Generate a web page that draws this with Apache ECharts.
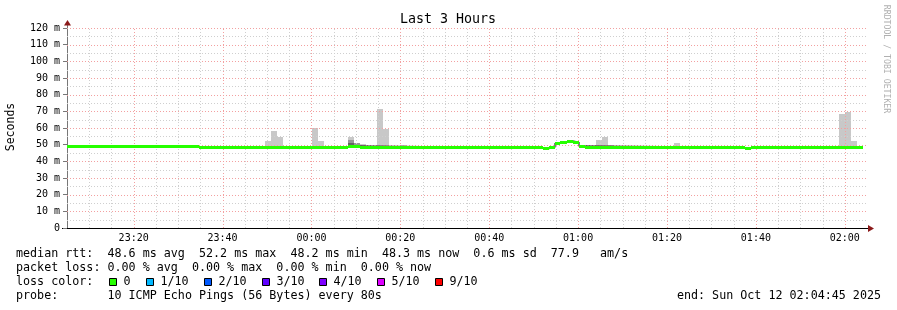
<!DOCTYPE html>
<html><head><meta charset="utf-8">
<script src="https://cdn.jsdelivr.net/npm/echarts@6/dist/echarts.min.js"></script>
<style>html,body{margin:0;padding:0;background:#fff}#c{width:897px;height:310px}</style>
</head><body><div id="c"></div>
<script>
// x values are minutes after 23:05:00; the graph spans 3 hours
const xTickMinutes = [15, 35, 55, 75, 95, 115, 135, 155, 175];
const xTickLabels = ['23:20', '23:40', '00:00', '00:20', '00:40', '01:00', '01:20', '01:40', '02:00'];
const yTickValues = [0, 10, 20, 30, 40, 50, 60, 70, 80, 90, 100, 110, 120];
const yTickLabels = ['0', '10 m', '20 m', '30 m', '40 m', '50 m', '60 m', '70 m', '80 m', '90 m', '100 m', '110 m', '120 m'];

// median rtt (ms), step segments: start minute and value; last segment ends at medianEndMinute
const medianStart = [0, 29.7, 63.2, 65.9, 107.1, 108.5, 109.8, 111.0, 112.5, 113.9, 115.2, 116.6, 150.0, 152.6, 153.9, 155.0, 172.6];
const medianValue = [48.7, 48.3, 49.2, 48.3, 47.6, 48.3, 51.0, 51.6, 52.2, 51.6, 49.2, 48.6, 48.3, 47.6, 48.3, 48.6, 48.3];
const medianEndMinute = 179.1;

// smoke (ping spread, ms) per 80 s step: start minute, low, high
const smokeStart = [44.55, 45.9, 47.2, 55.06, 56.5, 63.2, 64.6, 65.9, 69.69, 71.1, 72.4, 74.93, 119.0, 120.4, 121.7, 136.6, 173.7, 175.1, 176.4];
const smokeLow   = [48.3, 48.3, 48.3, 48.3, 48.3, 49.2, 49.2, 48.3, 48.3, 48.3, 48.3, 48.3, 48.6, 48.6, 48.6, 48.6, 48.3, 48.3, 48.3];
const smokeHigh  = [52.0, 58.5, 54.5, 60.0, 52.0, 54.6, 51.2, 50.2, 71.4, 59.6, 49.3, 49.8, 53.0, 54.6, 49.8, 51.2, 68.4, 69.4, 52.0];
// denser smoke (closer pings)
const smokeMidStart = [63.2, 64.6];
const smokeMidLow   = [51.2, 50.0];
const smokeMidHigh  = [52.8, 50.8];
const smokeCoreStart = [63.2];
const smokeCoreLow   = [50.0];
const smokeCoreHigh  = [51.2];

const stepMin = 80 / 60;
const lossColors = ['#26ff00', '#00b8ff', '#0059ff', '#5e00ff', '#7e00ff', '#dd00ff', '#ff0000'];
const lossLabels = ['0', '1/10', '2/10', '3/10', '4/10', '5/10', '9/10'];

const legendLines = [
  'median rtt:  48.6 ms avg  52.2 ms max  48.2 ms min  48.3 ms now  0.6 ms sd  77.9   am/s',
  'packet loss: 0.00 % avg  0.00 % max  0.00 % min  0.00 % now',
  'loss color:',
  'probe:       10 ICMP Echo Pings (56 Bytes) every 80s'
];
const endText = 'end: Sun Oct 12 02:04:45 2025';

const MONO = "'DejaVu Sans Mono', monospace";
const chart = echarts.init(document.getElementById('c'), null, {renderer: 'canvas'});

function smokeSeries(starts, lows, highs, color, z) {
  return {
    type: 'custom', z: z, silent: true, animation: false,
    data: starts.map((s, i) => [s, lows[i], highs[i]]),
    renderItem: function (params, api) {
      const s = api.value(0);
      const a = api.coord([s, api.value(2)]);
      const b = api.coord([s + stepMin, api.value(1)]);
      const x0 = Math.round(a[0]), x1 = Math.round(b[0]);
      const y0 = Math.round(a[1]), y1 = Math.round(b[1]);
      return {type: 'rect', shape: {x: x0, y: y0, width: x1 - x0, height: y1 - y0}, style: {fill: color}};
    }
  };
}

const gridV = []; for (let v = 5; v < 180; v += 5) gridV.push(v);
const gridH = []; for (let v = 5; v <= 120; v += 5) gridH.push(v);
const MAJOR = '#f3a0a0', MINOR = '#cfcfcf';

const medianSegs = medianStart.map((s, i) => [s, i + 1 < medianStart.length ? medianStart[i + 1] : medianEndMinute, medianValue[i]]);
const medianStepPts = medianStart.map((s, i) => [s, medianValue[i]]).concat([[medianEndMinute, medianValue[medianValue.length - 1]]]);

chart.setOption({
  animation: false,
  backgroundColor: '#ffffff',
  grid: {left: 67, top: 28, width: 800, height: 200, containLabel: false},
  xAxis: {
    type: 'value', min: 0, max: 180, interval: 5,
    axisLine: {show: true, onZero: false, lineStyle: {color: '#000', width: 1}},
    axisTick: {show: false},
    splitLine: {show: false},
    axisLabel: {
      margin: 5, color: '#000', fontFamily: MONO, fontSize: 10, showMinLabel: true, showMaxLabel: true,
      formatter: v => { const i = xTickMinutes.indexOf(v); return i >= 0 ? xTickLabels[i] : ''; }
    }
  },
  yAxis: {
    type: 'value', min: 0, max: 120, interval: 10,
    axisLine: {show: true, lineStyle: {color: '#777', width: 1}},
    axisTick: {show: true, length: 4, lineStyle: {color: '#777'}},
    splitLine: {show: false},
    axisLabel: {
      margin: 7, color: '#000', fontFamily: MONO, fontSize: 10,
      formatter: v => { const i = yTickValues.indexOf(v); return i >= 0 ? yTickLabels[i] : ''; }
    }
  },
  series: [
    smokeSeries(smokeStart, smokeLow, smokeHigh, '#c8c8c8', 2),
    smokeSeries(smokeMidStart, smokeMidLow, smokeMidHigh, '#969696', 2),
    smokeSeries(smokeCoreStart, smokeCoreLow, smokeCoreHigh, '#646464', 2),
    {
      type: 'custom', z: 3, silent: true, animation: false,
      data: gridV.map(v => [v, 0]),
      renderItem: function (params, api) {
        const v = api.value(0);
        const a = api.coord([v, 0]), b = api.coord([v, 120]);
        const x = Math.round(a[0]) + 0.5;
        return {type: 'line', shape: {x1: x, y1: a[1], x2: x, y2: b[1]},
          style: {stroke: xTickMinutes.indexOf(v) >= 0 ? MAJOR : MINOR, lineWidth: 1, lineDash: [1, 2]}};
      }
    },
    {
      type: 'custom', z: 3, silent: true, animation: false,
      data: gridH.map(v => [0, v]),
      renderItem: function (params, api) {
        const v = api.value(1);
        const a = api.coord([0, v]), b = api.coord([180, v]);
        const y = Math.round(a[1]) + 0.5;
        return {type: 'line', shape: {x1: a[0], y1: y, x2: b[0], y2: y},
          style: {stroke: v % 10 === 0 ? MAJOR : MINOR, lineWidth: 1, lineDash: [1, 2]}};
      }
    },
    {
      type: 'line', z: 4, silent: true, step: 'end', symbol: 'none', animation: false,
      data: medianStepPts,
      lineStyle: {color: '#000', width: 1}
    },
    {
      type: 'custom', z: 5, silent: true, animation: false,
      data: medianSegs,
      renderItem: function (params, api) {
        const a = api.coord([api.value(0), api.value(2)]);
        const b = api.coord([api.value(1), api.value(2)]);
        const x0 = Math.round(a[0]), x1 = Math.round(b[0]);
        const y0 = Math.round(a[1] - 1.5);
        return {type: 'rect', shape: {x: x0, y: y0, width: x1 - x0, height: 3}, style: {fill: lossColors[0]}};
      }
    }
  ],
  graphic: (function () {
    const g = [];
    g.push({type: 'text', silent: true, style: {text: 'Last 3 Hours', x: 448, y: 20, align: 'center', verticalAlign: 'middle', font: "13.3px " + MONO, fill: '#000'}});
    g.push({type: 'text', silent: true, x: 11, y: 127, rotation: Math.PI / 2, style: {text: 'Seconds', x: 0, y: 0, align: 'center', verticalAlign: 'middle', font: "11.5px " + MONO, fill: '#000'}});
    g.push({type: 'text', silent: true, x: 886, y: 59, rotation: -Math.PI / 2, style: {text: 'RRDTOOL / TOBI OETIKER', x: 0, y: 0, align: 'center', verticalAlign: 'middle', font: "8.2px " + MONO, fill: '#b0b0b0'}});
    // axis extensions and arrows
    g.push({type: 'line', silent: true, shape: {x1: 67.5, y1: 28, x2: 67.5, y2: 24}, style: {stroke: '#777', lineWidth: 1}});
    g.push({type: 'polygon', silent: true, shape: {points: [[64, 25.5], [71, 25.5], [67.5, 20]]}, style: {fill: '#8b1a1a'}});
    g.push({type: 'line', silent: true, shape: {x1: 62, y1: 228.5, x2: 869, y2: 228.5}, style: {stroke: '#000', lineWidth: 1}});
    g.push({type: 'polygon', silent: true, shape: {points: [[868, 225], [868, 232], [874, 228.5]]}, style: {fill: '#8b1a1a'}});
    const ys = [254, 268, 282, 296];
    legendLines.forEach((t, i) => {
      g.push({type: 'text', silent: true, style: {text: t, x: 16, y: ys[i], verticalAlign: 'middle', font: "11.7px " + MONO, fill: '#000'}});
    });
    const boxX = [109, 146, 204, 262, 319, 377, 435];
    lossColors.forEach((c, i) => {
      g.push({type: 'rect', silent: true, shape: {x: boxX[i] + 0.5, y: 278.5, width: 7, height: 7}, style: {fill: c, stroke: '#000', lineWidth: 1}});
      g.push({type: 'text', silent: true, style: {text: lossLabels[i], x: boxX[i] + 14.5, y: 282, verticalAlign: 'middle', font: "11.7px " + MONO, fill: '#000'}});
    });
    g.push({type: 'text', silent: true, style: {text: endText, x: 881, y: 296, align: 'right', verticalAlign: 'middle', font: "11.7px " + MONO, fill: '#000'}});
    return g;
  })()
});
</script>
</body></html>
